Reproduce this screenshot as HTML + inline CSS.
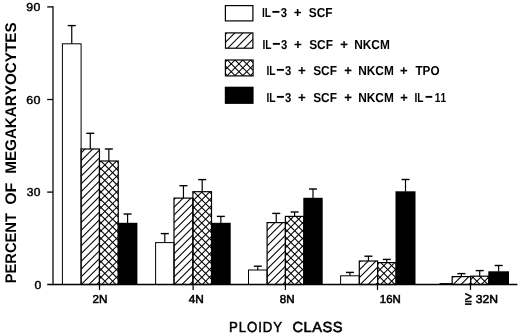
<!DOCTYPE html>
<html><head><meta charset="utf-8"><title>Ploidy class</title>
<style>html,body{margin:0;padding:0;background:#fff}svg{display:block}text{font-kerning:none;text-rendering:geometricPrecision;font-family:"Liberation Sans",sans-serif;fill:#000}</style>
</head><body>
<svg width="520" height="335" viewBox="0 0 520 335">
<defs><filter id="soft" x="0" y="0" width="520" height="335" filterUnits="userSpaceOnUse"><feGaussianBlur stdDeviation="0.35"/></filter></defs>
<rect width="520" height="335" fill="#fff"/>
<g filter="url(#soft)">
<line x1="71.75" y1="43.80" x2="71.75" y2="25.60" stroke="#000" stroke-width="1.2"/>
<line x1="67.75" y1="25.60" x2="75.75" y2="25.60" stroke="#000" stroke-width="1.4"/>
<line x1="90.28" y1="149.00" x2="90.28" y2="133.30" stroke="#000" stroke-width="1.2"/>
<line x1="86.28" y1="133.30" x2="94.28" y2="133.30" stroke="#000" stroke-width="1.4"/>
<line x1="108.85" y1="161.00" x2="108.85" y2="149.00" stroke="#000" stroke-width="1.2"/>
<line x1="104.85" y1="149.00" x2="112.85" y2="149.00" stroke="#000" stroke-width="1.4"/>
<line x1="127.58" y1="223.00" x2="127.58" y2="214.00" stroke="#000" stroke-width="1.2"/>
<line x1="123.58" y1="214.00" x2="131.57" y2="214.00" stroke="#000" stroke-width="1.4"/>
<rect x="62.40" y="43.80" width="18.70" height="240.70" fill="none" stroke="#000" stroke-width="1.0"/>
<clipPath id="c1"><rect x="81.10" y="149.00" width="18.35" height="135.50"/></clipPath>
<g clip-path="url(#c1)" stroke="#000" stroke-width="1.05">
<path d="M80.10 146.15L100.45 125.80"/>
<path d="M80.10 153.90L100.45 133.55"/>
<path d="M80.10 161.65L100.45 141.30"/>
<path d="M80.10 169.40L100.45 149.05"/>
<path d="M80.10 177.15L100.45 156.80"/>
<path d="M80.10 184.90L100.45 164.55"/>
<path d="M80.10 192.65L100.45 172.30"/>
<path d="M80.10 200.40L100.45 180.05"/>
<path d="M80.10 208.15L100.45 187.80"/>
<path d="M80.10 215.90L100.45 195.55"/>
<path d="M80.10 223.65L100.45 203.30"/>
<path d="M80.10 231.40L100.45 211.05"/>
<path d="M80.10 239.15L100.45 218.80"/>
<path d="M80.10 246.90L100.45 226.55"/>
<path d="M80.10 254.65L100.45 234.30"/>
<path d="M80.10 262.40L100.45 242.05"/>
<path d="M80.10 270.15L100.45 249.80"/>
<path d="M80.10 277.90L100.45 257.55"/>
<path d="M80.10 285.65L100.45 265.30"/>
<path d="M80.10 293.40L100.45 273.05"/>
<path d="M80.10 301.15L100.45 280.80"/>
<path d="M80.10 308.90L100.45 288.55"/>
</g>
<rect x="81.10" y="149.00" width="18.35" height="135.50" fill="none" stroke="#000" stroke-width="1.2"/>
<clipPath id="c2"><rect x="99.45" y="161.00" width="18.80" height="123.50"/></clipPath>
<g clip-path="url(#c2)" stroke="#000" stroke-width="1.05">
<path d="M98.45 155.90L119.25 135.10"/>
<path d="M98.45 163.65L119.25 142.85"/>
<path d="M98.45 171.40L119.25 150.60"/>
<path d="M98.45 179.15L119.25 158.35"/>
<path d="M98.45 186.90L119.25 166.10"/>
<path d="M98.45 194.65L119.25 173.85"/>
<path d="M98.45 202.40L119.25 181.60"/>
<path d="M98.45 210.15L119.25 189.35"/>
<path d="M98.45 217.90L119.25 197.10"/>
<path d="M98.45 225.65L119.25 204.85"/>
<path d="M98.45 233.40L119.25 212.60"/>
<path d="M98.45 241.15L119.25 220.35"/>
<path d="M98.45 248.90L119.25 228.10"/>
<path d="M98.45 256.65L119.25 235.85"/>
<path d="M98.45 264.40L119.25 243.60"/>
<path d="M98.45 272.15L119.25 251.35"/>
<path d="M98.45 279.90L119.25 259.10"/>
<path d="M98.45 287.65L119.25 266.85"/>
<path d="M98.45 295.40L119.25 274.60"/>
<path d="M98.45 303.15L119.25 282.35"/>
<path d="M98.45 310.90L119.25 290.10"/>
<path d="M98.45 290.25L119.25 311.05"/>
<path d="M98.45 282.50L119.25 303.30"/>
<path d="M98.45 274.75L119.25 295.55"/>
<path d="M98.45 267.00L119.25 287.80"/>
<path d="M98.45 259.25L119.25 280.05"/>
<path d="M98.45 251.50L119.25 272.30"/>
<path d="M98.45 243.75L119.25 264.55"/>
<path d="M98.45 236.00L119.25 256.80"/>
<path d="M98.45 228.25L119.25 249.05"/>
<path d="M98.45 220.50L119.25 241.30"/>
<path d="M98.45 212.75L119.25 233.55"/>
<path d="M98.45 205.00L119.25 225.80"/>
<path d="M98.45 197.25L119.25 218.05"/>
<path d="M98.45 189.50L119.25 210.30"/>
<path d="M98.45 181.75L119.25 202.55"/>
<path d="M98.45 174.00L119.25 194.80"/>
<path d="M98.45 166.25L119.25 187.05"/>
<path d="M98.45 158.50L119.25 179.30"/>
<path d="M98.45 150.75L119.25 171.55"/>
<path d="M98.45 143.00L119.25 163.80"/>
<path d="M98.45 135.25L119.25 156.05"/>
</g>
<rect x="99.45" y="161.00" width="18.80" height="123.50" fill="none" stroke="#000" stroke-width="1.2"/>
<rect x="117.75" y="222.80" width="19.65" height="61.70" fill="#000"/>
<line x1="164.80" y1="242.60" x2="164.80" y2="233.60" stroke="#000" stroke-width="1.2"/>
<line x1="160.80" y1="233.60" x2="168.80" y2="233.60" stroke="#000" stroke-width="1.4"/>
<line x1="183.45" y1="198.10" x2="183.45" y2="185.70" stroke="#000" stroke-width="1.2"/>
<line x1="179.45" y1="185.70" x2="187.45" y2="185.70" stroke="#000" stroke-width="1.4"/>
<line x1="202.20" y1="191.70" x2="202.20" y2="179.60" stroke="#000" stroke-width="1.2"/>
<line x1="198.20" y1="179.60" x2="206.20" y2="179.60" stroke="#000" stroke-width="1.4"/>
<line x1="220.85" y1="223.00" x2="220.85" y2="216.40" stroke="#000" stroke-width="1.2"/>
<line x1="216.85" y1="216.40" x2="224.85" y2="216.40" stroke="#000" stroke-width="1.4"/>
<rect x="155.60" y="242.60" width="18.40" height="41.90" fill="none" stroke="#000" stroke-width="1.0"/>
<clipPath id="c3"><rect x="174.00" y="198.10" width="18.90" height="86.40"/></clipPath>
<g clip-path="url(#c3)" stroke="#000" stroke-width="1.05">
<path d="M173.00 192.75L193.90 171.85"/>
<path d="M173.00 200.50L193.90 179.60"/>
<path d="M173.00 208.25L193.90 187.35"/>
<path d="M173.00 216.00L193.90 195.10"/>
<path d="M173.00 223.75L193.90 202.85"/>
<path d="M173.00 231.50L193.90 210.60"/>
<path d="M173.00 239.25L193.90 218.35"/>
<path d="M173.00 247.00L193.90 226.10"/>
<path d="M173.00 254.75L193.90 233.85"/>
<path d="M173.00 262.50L193.90 241.60"/>
<path d="M173.00 270.25L193.90 249.35"/>
<path d="M173.00 278.00L193.90 257.10"/>
<path d="M173.00 285.75L193.90 264.85"/>
<path d="M173.00 293.50L193.90 272.60"/>
<path d="M173.00 301.25L193.90 280.35"/>
<path d="M173.00 309.00L193.90 288.10"/>
</g>
<rect x="174.00" y="198.10" width="18.90" height="86.40" fill="none" stroke="#000" stroke-width="1.2"/>
<clipPath id="c4"><rect x="192.90" y="191.70" width="18.60" height="92.80"/></clipPath>
<g clip-path="url(#c4)" stroke="#000" stroke-width="1.05">
<path d="M191.90 186.45L212.50 165.85"/>
<path d="M191.90 194.20L212.50 173.60"/>
<path d="M191.90 201.95L212.50 181.35"/>
<path d="M191.90 209.70L212.50 189.10"/>
<path d="M191.90 217.45L212.50 196.85"/>
<path d="M191.90 225.20L212.50 204.60"/>
<path d="M191.90 232.95L212.50 212.35"/>
<path d="M191.90 240.70L212.50 220.10"/>
<path d="M191.90 248.45L212.50 227.85"/>
<path d="M191.90 256.20L212.50 235.60"/>
<path d="M191.90 263.95L212.50 243.35"/>
<path d="M191.90 271.70L212.50 251.10"/>
<path d="M191.90 279.45L212.50 258.85"/>
<path d="M191.90 287.20L212.50 266.60"/>
<path d="M191.90 294.95L212.50 274.35"/>
<path d="M191.90 302.70L212.50 282.10"/>
<path d="M191.90 310.45L212.50 289.85"/>
<path d="M191.90 290.70L212.50 311.30"/>
<path d="M191.90 282.95L212.50 303.55"/>
<path d="M191.90 275.20L212.50 295.80"/>
<path d="M191.90 267.45L212.50 288.05"/>
<path d="M191.90 259.70L212.50 280.30"/>
<path d="M191.90 251.95L212.50 272.55"/>
<path d="M191.90 244.20L212.50 264.80"/>
<path d="M191.90 236.45L212.50 257.05"/>
<path d="M191.90 228.70L212.50 249.30"/>
<path d="M191.90 220.95L212.50 241.55"/>
<path d="M191.90 213.20L212.50 233.80"/>
<path d="M191.90 205.45L212.50 226.05"/>
<path d="M191.90 197.70L212.50 218.30"/>
<path d="M191.90 189.95L212.50 210.55"/>
<path d="M191.90 182.20L212.50 202.80"/>
<path d="M191.90 174.45L212.50 195.05"/>
<path d="M191.90 166.70L212.50 187.30"/>
</g>
<rect x="192.90" y="191.70" width="18.60" height="92.80" fill="none" stroke="#000" stroke-width="1.2"/>
<rect x="211.00" y="222.80" width="19.70" height="61.70" fill="#000"/>
<line x1="257.80" y1="270.00" x2="257.80" y2="266.20" stroke="#000" stroke-width="1.2"/>
<line x1="253.80" y1="266.20" x2="261.80" y2="266.20" stroke="#000" stroke-width="1.4"/>
<line x1="276.25" y1="222.60" x2="276.25" y2="213.40" stroke="#000" stroke-width="1.2"/>
<line x1="272.25" y1="213.40" x2="280.25" y2="213.40" stroke="#000" stroke-width="1.4"/>
<line x1="294.60" y1="216.40" x2="294.60" y2="212.00" stroke="#000" stroke-width="1.2"/>
<line x1="290.60" y1="212.00" x2="298.60" y2="212.00" stroke="#000" stroke-width="1.4"/>
<line x1="313.00" y1="198.00" x2="313.00" y2="189.00" stroke="#000" stroke-width="1.2"/>
<line x1="309.00" y1="189.00" x2="317.00" y2="189.00" stroke="#000" stroke-width="1.4"/>
<rect x="248.50" y="270.00" width="18.60" height="14.50" fill="none" stroke="#000" stroke-width="1.0"/>
<clipPath id="c5"><rect x="267.10" y="222.60" width="18.30" height="61.90"/></clipPath>
<g clip-path="url(#c5)" stroke="#000" stroke-width="1.05">
<path d="M266.10 215.90L286.40 195.60"/>
<path d="M266.10 223.65L286.40 203.35"/>
<path d="M266.10 231.40L286.40 211.10"/>
<path d="M266.10 239.15L286.40 218.85"/>
<path d="M266.10 246.90L286.40 226.60"/>
<path d="M266.10 254.65L286.40 234.35"/>
<path d="M266.10 262.40L286.40 242.10"/>
<path d="M266.10 270.15L286.40 249.85"/>
<path d="M266.10 277.90L286.40 257.60"/>
<path d="M266.10 285.65L286.40 265.35"/>
<path d="M266.10 293.40L286.40 273.10"/>
<path d="M266.10 301.15L286.40 280.85"/>
<path d="M266.10 308.90L286.40 288.60"/>
</g>
<rect x="267.10" y="222.60" width="18.30" height="61.90" fill="none" stroke="#000" stroke-width="1.2"/>
<clipPath id="c6"><rect x="285.40" y="216.40" width="18.40" height="68.10"/></clipPath>
<g clip-path="url(#c6)" stroke="#000" stroke-width="1.05">
<path d="M284.40 210.20L304.80 189.80"/>
<path d="M284.40 217.95L304.80 197.55"/>
<path d="M284.40 225.70L304.80 205.30"/>
<path d="M284.40 233.45L304.80 213.05"/>
<path d="M284.40 241.20L304.80 220.80"/>
<path d="M284.40 248.95L304.80 228.55"/>
<path d="M284.40 256.70L304.80 236.30"/>
<path d="M284.40 264.45L304.80 244.05"/>
<path d="M284.40 272.20L304.80 251.80"/>
<path d="M284.40 279.95L304.80 259.55"/>
<path d="M284.40 287.70L304.80 267.30"/>
<path d="M284.40 295.45L304.80 275.05"/>
<path d="M284.40 303.20L304.80 282.80"/>
<path d="M284.40 310.95L304.80 290.55"/>
<path d="M284.40 290.20L304.80 310.60"/>
<path d="M284.40 282.45L304.80 302.85"/>
<path d="M284.40 274.70L304.80 295.10"/>
<path d="M284.40 266.95L304.80 287.35"/>
<path d="M284.40 259.20L304.80 279.60"/>
<path d="M284.40 251.45L304.80 271.85"/>
<path d="M284.40 243.70L304.80 264.10"/>
<path d="M284.40 235.95L304.80 256.35"/>
<path d="M284.40 228.20L304.80 248.60"/>
<path d="M284.40 220.45L304.80 240.85"/>
<path d="M284.40 212.70L304.80 233.10"/>
<path d="M284.40 204.95L304.80 225.35"/>
<path d="M284.40 197.20L304.80 217.60"/>
<path d="M284.40 189.45L304.80 209.85"/>
</g>
<rect x="285.40" y="216.40" width="18.40" height="68.10" fill="none" stroke="#000" stroke-width="1.2"/>
<rect x="303.30" y="197.80" width="19.40" height="86.70" fill="#000"/>
<line x1="349.95" y1="275.80" x2="349.95" y2="272.40" stroke="#000" stroke-width="1.2"/>
<line x1="345.95" y1="272.40" x2="353.95" y2="272.40" stroke="#000" stroke-width="1.4"/>
<line x1="368.45" y1="261.00" x2="368.45" y2="256.20" stroke="#000" stroke-width="1.2"/>
<line x1="364.45" y1="256.20" x2="372.45" y2="256.20" stroke="#000" stroke-width="1.4"/>
<line x1="386.80" y1="262.60" x2="386.80" y2="259.40" stroke="#000" stroke-width="1.2"/>
<line x1="382.80" y1="259.40" x2="390.80" y2="259.40" stroke="#000" stroke-width="1.4"/>
<line x1="405.50" y1="191.50" x2="405.50" y2="179.50" stroke="#000" stroke-width="1.2"/>
<line x1="401.50" y1="179.50" x2="409.50" y2="179.50" stroke="#000" stroke-width="1.4"/>
<rect x="340.60" y="275.80" width="18.70" height="8.70" fill="none" stroke="#000" stroke-width="1.0"/>
<clipPath id="c7"><rect x="359.30" y="261.00" width="18.30" height="23.50"/></clipPath>
<g clip-path="url(#c7)" stroke="#000" stroke-width="1.05">
<path d="M358.30 255.45L378.60 235.15"/>
<path d="M358.30 263.20L378.60 242.90"/>
<path d="M358.30 270.95L378.60 250.65"/>
<path d="M358.30 278.70L378.60 258.40"/>
<path d="M358.30 286.45L378.60 266.15"/>
<path d="M358.30 294.20L378.60 273.90"/>
<path d="M358.30 301.95L378.60 281.65"/>
<path d="M358.30 309.70L378.60 289.40"/>
</g>
<rect x="359.30" y="261.00" width="18.30" height="23.50" fill="none" stroke="#000" stroke-width="1.2"/>
<clipPath id="c8"><rect x="377.60" y="262.60" width="18.40" height="21.90"/></clipPath>
<g clip-path="url(#c8)" stroke="#000" stroke-width="1.05">
<path d="M376.60 257.50L397.00 237.10"/>
<path d="M376.60 265.25L397.00 244.85"/>
<path d="M376.60 273.00L397.00 252.60"/>
<path d="M376.60 280.75L397.00 260.35"/>
<path d="M376.60 288.50L397.00 268.10"/>
<path d="M376.60 296.25L397.00 275.85"/>
<path d="M376.60 304.00L397.00 283.60"/>
<path d="M376.60 289.40L397.00 309.80"/>
<path d="M376.60 281.65L397.00 302.05"/>
<path d="M376.60 273.90L397.00 294.30"/>
<path d="M376.60 266.15L397.00 286.55"/>
<path d="M376.60 258.40L397.00 278.80"/>
<path d="M376.60 250.65L397.00 271.05"/>
<path d="M376.60 242.90L397.00 263.30"/>
</g>
<rect x="377.60" y="262.60" width="18.40" height="21.90" fill="none" stroke="#000" stroke-width="1.2"/>
<rect x="395.50" y="191.30" width="20.00" height="93.20" fill="#000"/>
<line x1="461.40" y1="276.60" x2="461.40" y2="273.60" stroke="#000" stroke-width="1.2"/>
<line x1="457.40" y1="273.60" x2="465.40" y2="273.60" stroke="#000" stroke-width="1.4"/>
<line x1="479.70" y1="276.20" x2="479.70" y2="270.60" stroke="#000" stroke-width="1.2"/>
<line x1="475.70" y1="270.60" x2="483.70" y2="270.60" stroke="#000" stroke-width="1.4"/>
<line x1="498.65" y1="271.50" x2="498.65" y2="265.50" stroke="#000" stroke-width="1.2"/>
<line x1="494.65" y1="265.50" x2="502.65" y2="265.50" stroke="#000" stroke-width="1.4"/>
<rect x="440.00" y="283.60" width="12.20" height="0.90" fill="none" stroke="#000" stroke-width="1.0"/>
<clipPath id="c9"><rect x="452.20" y="276.60" width="18.40" height="7.90"/></clipPath>
<g clip-path="url(#c9)" stroke="#000" stroke-width="1.05">
<path d="M451.20 271.05L471.60 250.65"/>
<path d="M451.20 278.80L471.60 258.40"/>
<path d="M451.20 286.55L471.60 266.15"/>
<path d="M451.20 294.30L471.60 273.90"/>
<path d="M451.20 302.05L471.60 281.65"/>
<path d="M451.20 309.80L471.60 289.40"/>
</g>
<rect x="452.20" y="276.60" width="18.40" height="7.90" fill="none" stroke="#000" stroke-width="1.2"/>
<clipPath id="c10"><rect x="470.60" y="276.20" width="18.20" height="8.30"/></clipPath>
<g clip-path="url(#c10)" stroke="#000" stroke-width="1.05">
<path d="M469.60 273.00L489.80 252.80"/>
<path d="M469.60 280.75L489.80 260.55"/>
<path d="M469.60 288.50L489.80 268.30"/>
<path d="M469.60 296.25L489.80 276.05"/>
<path d="M469.60 304.00L489.80 283.80"/>
<path d="M469.60 289.40L489.80 309.60"/>
<path d="M469.60 281.65L489.80 301.85"/>
<path d="M469.60 273.90L489.80 294.10"/>
<path d="M469.60 266.15L489.80 286.35"/>
<path d="M469.60 258.40L489.80 278.60"/>
<path d="M469.60 250.65L489.80 270.85"/>
</g>
<rect x="470.60" y="276.20" width="18.20" height="8.30" fill="none" stroke="#000" stroke-width="1.2"/>
<rect x="488.30" y="271.30" width="20.70" height="13.20" fill="#000"/>
<line x1="53.00" y1="6.30" x2="53.00" y2="285.20" stroke="#000" stroke-width="1.25"/>
<line x1="47.20" y1="284.50" x2="517.40" y2="284.50" stroke="#000" stroke-width="1.4"/>
<line x1="47.20" y1="6.90" x2="53.00" y2="6.90" stroke="#000" stroke-width="1.3"/>
<line x1="47.20" y1="99.50" x2="53.00" y2="99.50" stroke="#000" stroke-width="1.3"/>
<line x1="47.20" y1="192.10" x2="53.00" y2="192.10" stroke="#000" stroke-width="1.3"/>
<line x1="99.50" y1="284.50" x2="99.50" y2="289.90" stroke="#000" stroke-width="1.2"/>
<line x1="193.10" y1="284.50" x2="193.10" y2="289.90" stroke="#000" stroke-width="1.2"/>
<line x1="285.40" y1="284.50" x2="285.40" y2="289.90" stroke="#000" stroke-width="1.2"/>
<line x1="377.50" y1="284.50" x2="377.50" y2="289.90" stroke="#000" stroke-width="1.2"/>
<line x1="470.50" y1="284.50" x2="470.50" y2="289.90" stroke="#000" stroke-width="1.2"/>
<text transform="translate(26.70,11.00) scale(1.0588,1)" x="-0.32" y="0" font-size="11.6" letter-spacing="0.3" stroke="#000" stroke-width="0.45">90</text>
<text transform="translate(26.70,104.00) scale(1.0785,1)" x="-0.36" y="0" font-size="11.6" letter-spacing="0.3" stroke="#000" stroke-width="0.45">60</text>
<text transform="translate(26.90,196.00) scale(1.0347,1)" x="-0.22" y="0" font-size="11.6" letter-spacing="0.3" stroke="#000" stroke-width="0.45">30</text>
<text transform="translate(34.70,289.00) scale(1.0509,1)" x="-0.23" y="0" font-size="11.6" stroke="#000" stroke-width="0.45">0</text>
<text transform="translate(92.90,303.00) scale(1.0120,1)" x="-0.30" y="0" font-size="11.5" stroke="#000" stroke-width="0.55">2N</text>
<text transform="translate(188.80,303.00) scale(1.0250,1)" x="0.01" y="0" font-size="11.5" stroke="#000" stroke-width="0.55">4N</text>
<text transform="translate(280.00,303.00) scale(1.0063,1)" x="-0.22" y="0" font-size="11.5" stroke="#000" stroke-width="0.55">8N</text>
<text transform="translate(380.40,303.00) scale(0.9933,1)" x="-0.60" y="0" font-size="11.5" stroke="#000" stroke-width="0.55">16N</text>
<text transform="translate(465.10,301.75) scale(0.8317,1)" x="-0.22" y="0" font-size="14.81" stroke="#000" stroke-width="0.5">≥</text>
<rect x="465.0" y="303.3" width="6.6" height="1.6" fill="#000"/>
<text transform="translate(476.00,303.00) scale(1.0557,1)" x="-0.16" y="0" font-size="11.5" stroke="#000" stroke-width="0.55">32N</text>
<text transform="translate(229.90,332.00) scale(0.9056,1)" x="-0.95" y="0" font-size="14.6" letter-spacing="1.0" stroke="#000" stroke-width="0.5">PLOIDY</text>
<text transform="translate(292.90,332.00) scale(1.0048,1)" x="-0.44" y="0" font-size="14.6" letter-spacing="0.5" stroke="#000" stroke-width="0.6">CLASS</text>
<text transform="translate(16.00,282.40) rotate(-90) scale(0.9559,1)" x="-1.03" y="0" font-size="15.4" font-weight="bold">PERCENT</text>
<text transform="translate(16.00,204.20) rotate(-90) scale(1.0401,1)" x="-0.63" y="0" font-size="15.4" font-weight="bold">OF</text>
<text transform="translate(16.00,172.80) rotate(-90) scale(0.9893,1)" x="-1.03" y="0" font-size="15.4" font-weight="bold">MEGAKARYOCYTES</text>
<rect x="225.40" y="5.60" width="27.50" height="15.30" fill="none" stroke="#000" stroke-width="1.2"/>
<clipPath id="c11"><rect x="225.50" y="32.90" width="27.40" height="15.30"/></clipPath>
<g clip-path="url(#c11)" stroke="#000" stroke-width="1.05">
<path d="M224.50 26.95L253.90 -2.45"/>
<path d="M224.50 35.10L253.90 5.70"/>
<path d="M224.50 43.25L253.90 13.85"/>
<path d="M224.50 51.40L253.90 22.00"/>
<path d="M224.50 59.55L253.90 30.15"/>
<path d="M224.50 67.70L253.90 38.30"/>
<path d="M224.50 75.85L253.90 46.45"/>
<path d="M224.50 84.00L253.90 54.60"/>
</g>
<rect x="225.50" y="32.90" width="27.40" height="15.30" fill="none" stroke="#000" stroke-width="1.2"/>
<clipPath id="c12"><rect x="225.40" y="60.00" width="27.70" height="15.90"/></clipPath>
<g clip-path="url(#c12)" stroke="#000" stroke-width="1.05">
<path d="M224.40 55.20L254.10 25.50"/>
<path d="M224.40 62.95L254.10 33.25"/>
<path d="M224.40 70.70L254.10 41.00"/>
<path d="M224.40 78.45L254.10 48.75"/>
<path d="M224.40 86.20L254.10 56.50"/>
<path d="M224.40 93.95L254.10 64.25"/>
<path d="M224.40 101.70L254.10 72.00"/>
<path d="M224.40 109.45L254.10 79.75"/>
<path d="M224.40 80.35L254.10 110.05"/>
<path d="M224.40 72.60L254.10 102.30"/>
<path d="M224.40 64.85L254.10 94.55"/>
<path d="M224.40 57.10L254.10 86.80"/>
<path d="M224.40 49.35L254.10 79.05"/>
<path d="M224.40 41.60L254.10 71.30"/>
<path d="M224.40 33.85L254.10 63.55"/>
<path d="M224.40 26.10L254.10 55.80"/>
</g>
<rect x="225.40" y="60.00" width="27.70" height="15.90" fill="none" stroke="#000" stroke-width="1.2"/>
<rect x="224.80" y="86.70" width="28.80" height="17.20" fill="#000"/>
<text transform="translate(262.70,17.00) scale(0.7877,1)" x="-0.87" y="0" font-size="13.0" font-weight="bold">IL</text>
<text transform="translate(272.30,16.23) scale(1.7532,1)" x="-0.62" y="0" font-size="15.95" font-weight="bold">-</text>
<text transform="translate(280.90,17.00) scale(0.8666,1)" x="-0.30" y="0" font-size="13.0" font-weight="bold">3</text>
<text transform="translate(294.20,16.82) scale(0.9827,1)" x="-0.52" y="0" font-size="13.6" font-weight="bold" stroke="#000" stroke-width="0.1">+</text>
<text transform="translate(309.10,17.00) scale(0.9145,1)" x="-0.37" y="0" font-size="13.0" font-weight="bold">SCF</text>
<text transform="translate(263.10,49.00) scale(0.7877,1)" x="-0.87" y="0" font-size="13.0" font-weight="bold">IL</text>
<text transform="translate(272.70,48.23) scale(1.7532,1)" x="-0.62" y="0" font-size="15.95" font-weight="bold">-</text>
<text transform="translate(281.30,49.00) scale(0.8666,1)" x="-0.30" y="0" font-size="13.0" font-weight="bold">3</text>
<text transform="translate(294.60,48.82) scale(0.9827,1)" x="-0.52" y="0" font-size="13.6" font-weight="bold" stroke="#000" stroke-width="0.1">+</text>
<text transform="translate(309.50,49.00) scale(0.9145,1)" x="-0.37" y="0" font-size="13.0" font-weight="bold">SCF</text>
<text transform="translate(340.70,48.75) scale(0.9832,1)" x="-0.51" y="0" font-size="13.39" font-weight="bold" stroke="#000" stroke-width="0.1">+</text>
<text transform="translate(355.00,49.00) scale(0.9126,1)" x="-0.87" y="0" font-size="13.0" font-weight="bold">NKCM</text>
<text transform="translate(267.10,75.00) scale(0.7877,1)" x="-0.87" y="0" font-size="13.0" font-weight="bold">IL</text>
<text transform="translate(276.70,74.23) scale(1.7532,1)" x="-0.62" y="0" font-size="15.95" font-weight="bold">-</text>
<text transform="translate(285.30,75.00) scale(0.8666,1)" x="-0.30" y="0" font-size="13.0" font-weight="bold">3</text>
<text transform="translate(298.60,74.82) scale(0.9827,1)" x="-0.52" y="0" font-size="13.6" font-weight="bold" stroke="#000" stroke-width="0.1">+</text>
<text transform="translate(313.50,75.00) scale(0.9145,1)" x="-0.37" y="0" font-size="13.0" font-weight="bold">SCF</text>
<text transform="translate(344.70,74.75) scale(0.9832,1)" x="-0.51" y="0" font-size="13.39" font-weight="bold" stroke="#000" stroke-width="0.1">+</text>
<text transform="translate(359.00,75.00) scale(0.9126,1)" x="-0.87" y="0" font-size="13.0" font-weight="bold">NKCM</text>
<text transform="translate(400.60,74.69) scale(0.9830,1)" x="-0.50" y="0" font-size="13.19" font-weight="bold" stroke="#000" stroke-width="0.1">+</text>
<text transform="translate(415.60,75.00) scale(0.8989,1)" x="-0.15" y="0" font-size="13.0" font-weight="bold">TPO</text>
<text transform="translate(267.10,102.00) scale(0.7877,1)" x="-0.87" y="0" font-size="13.0" font-weight="bold">IL</text>
<text transform="translate(276.70,101.23) scale(1.7532,1)" x="-0.62" y="0" font-size="15.95" font-weight="bold">-</text>
<text transform="translate(285.30,102.00) scale(0.8666,1)" x="-0.30" y="0" font-size="13.0" font-weight="bold">3</text>
<text transform="translate(298.60,101.82) scale(0.9827,1)" x="-0.52" y="0" font-size="13.6" font-weight="bold" stroke="#000" stroke-width="0.1">+</text>
<text transform="translate(313.50,102.00) scale(0.9145,1)" x="-0.37" y="0" font-size="13.0" font-weight="bold">SCF</text>
<text transform="translate(344.70,101.75) scale(0.9832,1)" x="-0.51" y="0" font-size="13.39" font-weight="bold" stroke="#000" stroke-width="0.1">+</text>
<text transform="translate(359.00,102.00) scale(0.9126,1)" x="-0.87" y="0" font-size="13.0" font-weight="bold">NKCM</text>
<text transform="translate(400.80,101.69) scale(0.9830,1)" x="-0.50" y="0" font-size="13.19" font-weight="bold" stroke="#000" stroke-width="0.1">+</text>
<text transform="translate(415.10,102.00) scale(0.7780,1)" x="-0.87" y="0" font-size="13.0" font-weight="bold">IL</text>
<text transform="translate(425.40,101.23) scale(1.6544,1)" x="-0.62" y="0" font-size="15.95" font-weight="bold">-</text>
<text transform="translate(435.40,102.00) scale(0.7832,1)" x="-0.82" y="0" font-size="13.0" font-weight="bold">11</text>
</g>
</svg>
</body></html>
